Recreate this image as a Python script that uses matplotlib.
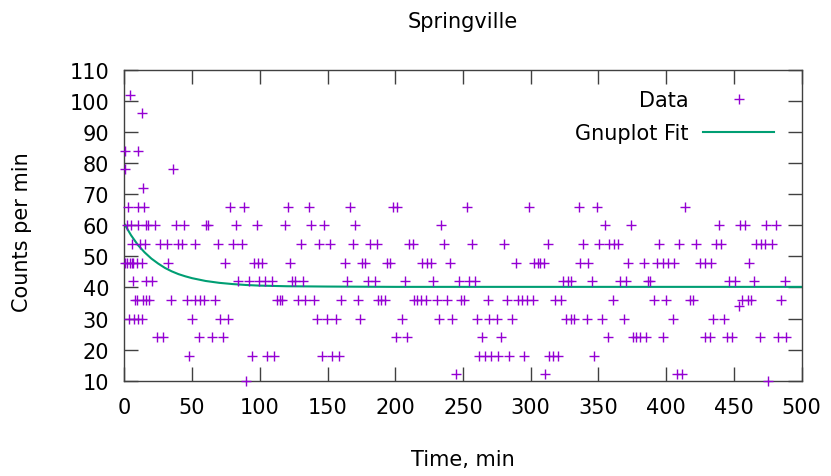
import numpy as np
import matplotlib
matplotlib.use("Agg")
import matplotlib.pyplot as plt

# minutes at which each count rate was recorded (counts per min levels)
t_102 = [4.2]
t_96 = [12.9]
t_84 = [0.5, 9.9]
t_78 = [0.5, 36.3]
t_72 = [13.6]
t_66 = [3.0, 10.4, 14.6, 78.2, 88.0, 120.6, 136.1, 166.4, 198.5, 201.5, 253.3,
        298.8, 335.4, 348.9, 414.0]
t_60 = [1.8, 4.7, 10.4, 16.0, 17.8, 22.7, 38.0, 44.2, 60.0, 61.7, 82.6, 97.9,
        118.9, 137.9, 147.7, 170.6, 234.0, 354.8, 374.0, 439.3, 454.1, 458.4,
        473.4, 481.3]
t_54 = [5.5, 11.6, 15.3, 26.4, 31.4, 40.0, 42.5, 52.3, 68.8, 80.2, 86.8, 130.5,
        144.0, 151.6, 168.9, 181.7, 186.2, 210.0, 213.3, 236.0, 257.0, 280.3,
        312.4, 338.8, 350.6, 358.0, 361.2, 364.2, 395.0, 409.8, 422.1, 436.9,
        440.1, 466.5, 469.7, 473.1, 478.1]
t_48 = [0.5, 2.2, 4.2, 5.5, 6.7, 9.2, 12.9, 32.5, 74.5, 95.9, 98.4, 101.6,
        122.6, 162.7, 175.6, 178.0, 193.6, 196.0, 220.0, 223.7, 226.1, 240.4,
        289.0, 302.5, 305.0, 307.0, 309.5, 336.5, 342.5, 372.0, 383.4, 393.3,
        397.5, 401.6, 405.6, 424.6, 428.3, 432.7, 460.8]
t_42 = [6.7, 16.0, 20.3, 83.6, 91.7, 99.1, 104.1, 109.0, 123.8, 126.3, 132.0,
        164.5, 179.7, 184.7, 206.9, 228.1, 247.0, 254.4, 258.7, 323.5, 327.2,
        329.7, 345.0, 366.1, 370.3, 386.4, 388.3, 446.7, 450.9, 464.5, 487.4]
t_36 = [7.9, 9.6, 13.6, 16.0, 18.5, 34.3, 46.2, 52.3, 56.0, 59.0, 67.1, 112.7,
        114.6, 116.4, 128.0, 133.7, 139.8, 160.0, 172.3, 187.1, 189.6, 192.1,
        213.8, 216.3, 218.7, 222.4, 230.5, 237.9, 248.3, 250.7, 268.5, 282.3,
        290.7, 293.9, 297.6, 301.3, 317.8, 322.3, 360.5, 390.8, 399.9, 417.2,
        419.7, 456.1, 460.4, 462.8, 485.0]
t_34 = [453.4]
t_30 = [3.7, 7.2, 10.4, 12.9, 49.9, 70.3, 76.2, 142.3, 149.7, 156.6, 174.3,
        205.2, 232.2, 242.2, 260.6, 269.2, 274.9, 285.8, 326.0, 329.7, 332.1,
        341.5, 352.6, 368.6, 404.9, 434.5, 442.6]
t_24 = [24.0, 28.4, 55.5, 64.6, 72.8, 200.7, 208.4, 264.3, 278.4, 356.8, 375.3,
        377.7, 380.9, 385.1, 397.5, 428.3, 432.0, 445.0, 448.5, 468.9, 482.5,
        488.7]
t_18 = [47.9, 94.2, 105.3, 110.7, 146.0, 153.4, 158.3, 261.8, 266.0, 271.0,
        275.9, 284.0, 294.7, 313.6, 316.1, 319.8, 346.9]
t_12 = [245.1, 310.4, 407.8, 411.5]
t_10 = [90.0, 475.2]

levels = [102, 96, 84, 78, 72, 66, 60, 54, 48, 42, 36, 34, 30, 24, 18, 12, 10]
times = [t_102, t_96, t_84, t_78, t_72, t_66, t_60, t_54, t_48, t_42,
         t_36, t_34, t_30, t_24, t_18, t_12, t_10]

# fitted curve
fit_t = [0, 5, 10, 15, 20, 25, 30, 35, 40, 45, 50, 60, 70, 80, 90, 100, 120,
         150, 200, 500]
fit_y = [60.5, 56.8, 53.7, 51.3, 49.3, 47.7, 46.3, 45.2, 44.3, 43.6, 43.0,
         42.1, 41.5, 41.1, 40.8, 40.6, 40.4, 40.3, 40.2, 40.2]

x = np.concatenate([np.array(t) for t in times])
y = np.concatenate([np.full(len(t), lv, dtype=float) for t, lv in zip(times, levels)])

W, H = 831, 477
fig = plt.figure(figsize=(W / 100, H / 100), dpi=100)
ax_l, ax_r, ax_t, ax_b = 124.3, 801.7, 71.0, 381.7
ax = fig.add_axes([ax_l / W, 1 - ax_b / H, (ax_r - ax_l) / W, (ax_b - ax_t) / H])

fs = 15
ax.plot(x, y, linestyle="none", marker="+", color="#9400d3", markersize=6.5,
        markeredgewidth=1.0, label="Data", clip_on=False, zorder=3)
ax.plot(fit_t, fit_y, color="#009e73", linewidth=1.5, label="Gnuplot Fit",
        zorder=2)

ax.set_xlim(0, 500)
ax.set_ylim(10, 110)
ax.set_xticks(np.arange(0, 501, 50))
ax.set_yticks(np.arange(10, 111, 10))
ax.tick_params(direction="in", length=10, width=1.0, color="#404040",
               top=True, right=True, labelsize=fs)
ax.tick_params(axis="x", pad=12)
ax.tick_params(axis="y", pad=11)
for s in ax.spines.values():
    s.set_color("#404040")
    s.set_linewidth(1.0)

ax.set_title("Springville", fontsize=fs, y=1.11)
ax.set_xlabel("Time, min", fontsize=fs, va="center")
ax.set_ylabel("Counts per min", fontsize=fs, va="center")
ax.xaxis.set_label_coords(0.5, -0.252)
ax.yaxis.set_label_coords(-0.151, 0.48)

leg = ax.legend(loc="upper right", bbox_to_anchor=(774 / W, 1 - 91 / H),
                bbox_transform=fig.transFigure, frameon=False, fontsize=fs,
                markerfirst=False, handlelength=3.4, handletextpad=0.7,
                borderpad=0, borderaxespad=0, labelspacing=0.62)
for t in leg.get_texts():
    t.set_ha("right")

fig.savefig("out.png", dpi=100)
